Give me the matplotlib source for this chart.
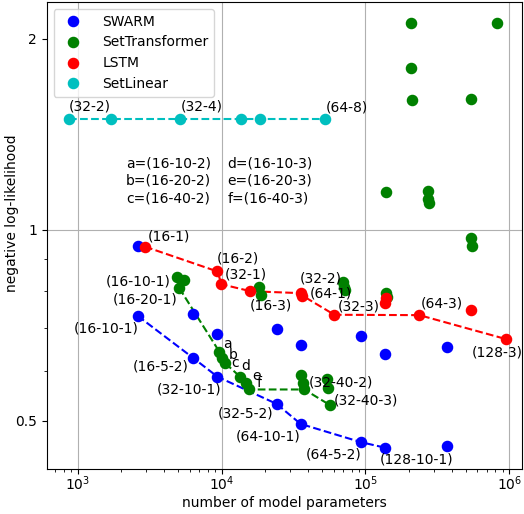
import matplotlib
matplotlib.use('Agg')
import matplotlib.pyplot as plt
from matplotlib.ticker import NullFormatter

# number of parameters / negative log-likelihood
swarm_params = [2615, 6310, 9365, 24100, 35400, 93600, 136800, 2615, 6310, 9365, 24100, 35400, 93600, 136800, 370000, 370000]
swarm_nll = [0.732, 0.629, 0.587, 0.532, 0.4947, 0.4628, 0.4538, 0.944, 0.736, 0.685, 0.697, 0.658, 0.680, 0.637, 0.654, 0.457]
swarm_labels = ['(16-10-1)', '(16-5-2)', '(32-10-1)', '(32-5-2)', '(64-10-1)', '(64-5-2)', '(128-10-1)']

st_params = [4887, 5093, 9640, 10110, 10610, 13430, 14780, 15580, 37560, 56350,
             5492, 18270, 18870, 35630, 36560, 53730, 54930, 69380, 71300, 72440, 139100, 141300,
             138200, 272700, 272700, 275000, 543000, 548000, 206400, 211800, 539600, 208600, 818000]
st_nll = [0.842, 0.809, 0.643, 0.628, 0.6165, 0.5871, 0.5735, 0.5605, 0.5605, 0.530,
          0.834, 0.814, 0.789, 0.591, 0.574, 0.582, 0.564, 0.829, 0.814, 0.804, 0.795, 0.785,
          1.148, 1.153, 1.119, 1.103, 0.972, 0.944, 1.798, 1.601, 1.607, 2.119, 2.119]
st_labels = ['(16-10-1)', '(16-20-1)', 'a', 'b', 'c', 'd', 'e', 'f', '(32-40-2)', '(32-40-3)']

lstm_params = [2938, 9365, 9980, 15880, 35400, 36390, 60770, 237000, 945500, 136800, 139600, 539600]
lstm_nll = [0.941, 0.860, 0.821, 0.8006, 0.795, 0.788, 0.735, 0.734, 0.673, 0.766, 0.780, 0.749]
lstm_labels = ['(16-1)', '(16-2)', '(32-1)', '(16-3)', '(32-2)', '(64-1)', '(32-3)', '(64-3)', '(128-3)']

lin_params = [866, 1708, 5152, 13700, 18580, 52000]
lin_nll = [1.496, 1.496, 1.496, 1.496, 1.496, 1.496]
lin_labels = ['(32-2)', '', '(32-4)', '', '', '(64-8)']

# label placement: (ha, dx, dy) in pixels from the point
swarm_off = [('right', 1, -13), ('right', -4, -9), ('right', 4, -13), ('right', -3, -10), ('right', 0, -13), ('right', 0, -12), ('left', -5, -12)]
st_off = [('right', -6, -4), ('right', -2, -11), ('left', 4, 8), ('left', 6, 3), ('left', 6, 0), ('left', 1, 11), ('left', 6, 7), ('left', 7, 6), ('left', 4, 7), ('left', 4, 4)]
lstm_off = [('left', 3, 10), ('left', -1, 13), ('left', 3, 10), ('left', -1, -14), ('left', -1, 15), ('left', 7, 2), ('left', 3, 8), ('left', 1, 12), ('left', -34, -13)]
lin_off = [('left', 0, 12), None, ('left', 1, 12), None, None, ('left', 1, 11)]

fig = plt.figure(figsize=(5.24, 5.14), dpi=100)
ax = fig.add_axes([0.0891, 0.0870, 0.908, 0.9091])

def draw(params, nll, n_front, labels, offs, color, name):
    ax.plot(params[:n_front], nll[:n_front], '--', color=color, lw=1.5, zorder=2)
    ax.plot(params, nll, 'o', color=color, ms=7.3, label=name, zorder=3)
    for x, y, lab, off in zip(params, nll, labels, offs):
        if off is None or not lab:
            continue
        ha, dx, dy = off
        ax.annotate(lab, xy=(x, y), xytext=(dx, dy), textcoords='offset pixels', ha=ha, va='center', fontsize=10)

draw(swarm_params, swarm_nll, len(swarm_labels), swarm_labels, swarm_off, 'b', 'SWARM')
draw(st_params, st_nll, len(st_labels), st_labels, st_off, 'g', 'SetTransformer')
draw(lstm_params, lstm_nll, len(lstm_labels), lstm_labels, lstm_off, 'r', 'LSTM')
draw(lin_params, lin_nll, len(lin_params), lin_labels, lin_off, 'c', 'SetLinear')

ax.set_xscale('log'); ax.set_yscale('log')
ax.set_xlim(609, 1.233e6); ax.set_ylim(0.4196, 2.286)
ax.set_yticks([0.5, 1, 2], ['0.5', '1', '2'])
ax.yaxis.set_minor_formatter(NullFormatter())
ax.tick_params(axis='x', which='major', pad=0.5)
ax.set_axisbelow(True)
ax.grid(True, which='major', axis='x', color='#b0b0b0', lw=0.8)
ax.axhline(1, color='#b0b0b0', lw=0.8, zorder=0.5)

ax.text(0.1667, 0.617, 'a=(16-10-2)\nb=(16-20-2)\nc=(16-40-2)', transform=ax.transAxes, ha='left', va='center', fontsize=10, linespacing=1.3)
ax.text(0.3796, 0.617, 'd=(16-10-3)\ne=(16-20-3)\nf=(16-40-3)', transform=ax.transAxes, ha='left', va='center', fontsize=10, linespacing=1.3)

ax.set_xlabel('number of model parameters', labelpad=2)
ax.set_ylabel('negative log-likelihood')
ax.yaxis.set_label_coords(-0.0572, 0.5485)
ax.legend(loc='upper left', handletextpad=1.1)
fig.savefig('out.png', dpi=100)
